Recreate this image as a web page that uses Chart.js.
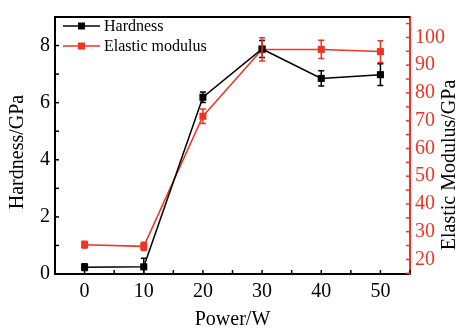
<!DOCTYPE html>
<html>
<head>
<meta charset="utf-8">
<script src="https://cdn.jsdelivr.net/npm/chart.js@4.4.0/dist/chart.umd.min.js"></script>
<style>
html,body{margin:0;padding:0;background:#fff;}
#wrap{width:458px;height:331px;position:relative;}
</style>
</head>
<body>
<div id="wrap"><canvas id="c" width="458" height="331"></canvas></div>
<script>
const power = [0, 10, 20, 30, 40, 50];
const hardness = [0.24, 0.25, 6.19, 7.88, 6.85, 6.98];
const hardnessErr = [0.12, 0.3, 0.18, 0.3, 0.27, 0.38];
const modulus = [25.3, 24.7, 71.6, 95.7, 95.7, 94.9];
const modulusErr = [1.2, 1.5, 2.6, 4.2, 3.3, 3.9];
const xTicks = [0, 10, 20, 30, 40, 50];
const yLeftTicks = [0, 2, 4, 6, 8];
const yRightTicks = [20, 30, 40, 50, 60, 70, 80, 90, 100];

const BLACK = '#000000';
const RED = '#ee3524';
const FONT = '"Liberation Serif", "Times New Roman", serif';

function fixTicks(values) {
  return function (scale) { scale.ticks = values.map(v => ({ value: v })); };
}

const errorBars = {
  id: 'errorBars',
  afterDatasetsDraw(chart) {
    const ctx = chart.ctx;
    const a = chart.chartArea;
    ctx.save();
    ctx.beginPath();
    ctx.rect(a.left, a.top, a.right - a.left, a.bottom - a.top);
    ctx.clip();
    chart.data.datasets.forEach(ds => {
      const xs = chart.scales.x;
      const ys = chart.scales[ds.yAxisID];
      ctx.strokeStyle = ds.borderColor;
      ctx.lineWidth = 1.5;
      ds.data.forEach((p, i) => {
        const e = ds.errors[i];
        const px = xs.getPixelForValue(p.x);
        const top = ys.getPixelForValue(p.y + e);
        const bot = ys.getPixelForValue(p.y - e);
        ctx.beginPath();
        ctx.moveTo(px, top); ctx.lineTo(px, bot);
        ctx.moveTo(px - 3, top); ctx.lineTo(px + 3, top);
        ctx.moveTo(px - 3, bot); ctx.lineTo(px + 3, bot);
        ctx.stroke();
      });
    });
    ctx.restore();
  }
};

const decor = {
  id: 'decor',
  afterDraw(chart) {
    const ctx = chart.ctx;
    const a = chart.chartArea;
    const xs = chart.scales.x, yl = chart.scales.y, yr = chart.scales.y2;
    ctx.save();
    // top border
    ctx.strokeStyle = BLACK; ctx.lineWidth = 2;
    ctx.beginPath(); ctx.moveTo(a.left - 1, a.top); ctx.lineTo(a.right, a.top); ctx.stroke();
    // inward ticks
    const TL = 4;
    ctx.lineWidth = 1.5;
    ctx.strokeStyle = BLACK;
    for (let v = -5; v <= 55; v += 5) {
      const px = xs.getPixelForValue(v);
      ctx.beginPath(); ctx.moveTo(px, a.bottom); ctx.lineTo(px, a.bottom - TL); ctx.stroke();
    }
    for (let v = 0; v <= 9; v += 1) {
      const py = yl.getPixelForValue(v);
      ctx.beginPath(); ctx.moveTo(a.left, py); ctx.lineTo(a.left + TL, py); ctx.stroke();
    }
    ctx.strokeStyle = RED;
    for (let v = 15; v <= 105; v += 5) {
      const py = yr.getPixelForValue(v);
      ctx.beginPath(); ctx.moveTo(a.right, py); ctx.lineTo(a.right - TL, py); ctx.stroke();
    }
    // axis titles
    ctx.fillStyle = BLACK;
    ctx.font = '20px ' + FONT;
    ctx.textAlign = 'center'; ctx.textBaseline = 'middle';
    ctx.fillText('Power/W', (a.left + a.right) / 2, 320);
    ctx.save(); ctx.translate(18, 152); ctx.rotate(-Math.PI / 2);
    ctx.fillText('Hardness/GPa', 0, 0); ctx.restore();
    ctx.save(); ctx.translate(455, 165); ctx.rotate(-Math.PI / 2);
    ctx.textBaseline = 'alphabetic';
    ctx.fillText('Elastic Modulus/GPa', 0, 0); ctx.restore();
    // legend
    ctx.font = '16px ' + FONT;
    ctx.textAlign = 'left';
    ctx.textBaseline = 'middle';
    const items = [[chart.data.datasets[0], 26], [chart.data.datasets[1], 46]];
    items.forEach(([ds, y]) => {
      ctx.strokeStyle = ds.borderColor; ctx.fillStyle = ds.borderColor; ctx.lineWidth = 1.5;
      ctx.beginPath(); ctx.moveTo(63, y); ctx.lineTo(100, y); ctx.stroke();
      ctx.fillRect(81.5 - 3.5, y - 3.5, 7, 7);
      ctx.fillStyle = BLACK;
      ctx.fillText(ds.label, 104, y + 1);
    });
    ctx.restore();
  }
};

new Chart(document.getElementById('c'), {
  type: 'line',
  data: {
    datasets: [
      {
        label: 'Hardness',
        data: power.map((p, i) => ({ x: p, y: hardness[i] })),
        errors: hardnessErr,
        yAxisID: 'y',
        borderColor: BLACK, backgroundColor: BLACK,
        borderWidth: 1.5, pointStyle: 'rect', pointRadius: 5, pointBorderWidth: 0,
        tension: 0
      },
      {
        label: 'Elastic modulus',
        data: power.map((p, i) => ({ x: p, y: modulus[i] })),
        errors: modulusErr,
        yAxisID: 'y2',
        borderColor: RED, backgroundColor: RED,
        borderWidth: 1.5, pointStyle: 'rect', pointRadius: 5, pointBorderWidth: 0,
        tension: 0
      }
    ]
  },
  options: {
    responsive: false,
    animation: false,
    devicePixelRatio: 1,
    layout: { padding: { top: 10, left: 0, right: 0, bottom: 0 } },
    plugins: { legend: { display: false }, tooltip: { enabled: false } },
    scales: {
      x: {
        type: 'linear', position: 'bottom', min: -5, max: 55,
        afterBuildTicks: fixTicks(xTicks),
        afterFit: s => { s.height = 57; },
        grid: { display: false, drawTicks: false },
        border: { display: true, color: BLACK, width: 2 },
        ticks: { color: BLACK, font: { family: FONT, size: 20 }, padding: 6, maxRotation: 0 }
      },
      y: {
        type: 'linear', position: 'left', min: 0, max: 9,
        afterBuildTicks: fixTicks(yLeftTicks),
        afterFit: s => { s.width = 55; },
        grid: { display: false, drawTicks: false },
        border: { display: true, color: BLACK, width: 2 },
        ticks: { color: BLACK, font: { family: FONT, size: 20 }, padding: 5 }
      },
      y2: {
        type: 'linear', position: 'right', min: 14.74, max: 107.37,
        afterBuildTicks: fixTicks(yRightTicks),
        afterFit: s => { s.width = 48; },
        grid: { display: false, drawTicks: false },
        border: { display: true, color: RED, width: 2 },
        ticks: { color: RED, font: { family: FONT, size: 20 }, padding: 5 }
      }
    }
  },
  plugins: [errorBars, decor]
});
</script>
</body>
</html>
